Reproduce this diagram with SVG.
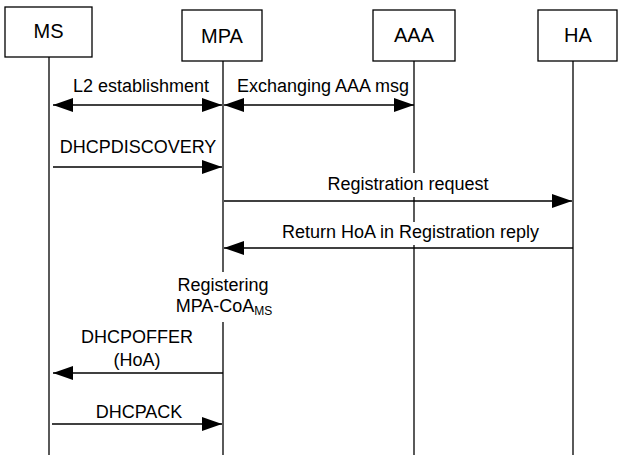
<svg xmlns="http://www.w3.org/2000/svg" width="619" height="455" viewBox="0 0 619 455">
  <defs>
    <marker id="arrow" viewBox="0 0 20 14" refX="20" refY="7" markerWidth="20" markerHeight="14" markerUnits="userSpaceOnUse" orient="auto-start-reverse">
      <path d="M0,0 L20,7 L0,14 Z" fill="#000"/>
    </marker>
  </defs>
  <style>
    .box { fill: #fff; stroke: #000; stroke-width: 1.3; }
    .life { stroke: #000; stroke-width: 1.3; fill: none; }
    .msg { stroke: #000; stroke-width: 1.3; fill: none; }
    .title { font-family: "Liberation Sans", Arial, sans-serif; font-size: 20px; fill: #000; text-anchor: middle; }
    .lbl { font-family: "Liberation Sans", Arial, sans-serif; font-size: 18px; fill: #000; text-anchor: middle; }
  </style>
  <rect width="619" height="455" fill="#fff"/>

  <!-- participants -->
  <g id="ms">
    <rect class="box" x="5" y="7" width="87" height="50"/>
    <text class="title" x="48.5" y="38">MS</text>
  </g>
  <g id="mpa">
    <rect class="box" x="182" y="10" width="80" height="51"/>
    <text class="title" x="222" y="43">MPA</text>
  </g>
  <g id="aaa">
    <rect class="box" x="373" y="10" width="82" height="51"/>
    <text class="title" x="414" y="42">AAA</text>
  </g>
  <g id="ha">
    <rect class="box" x="538" y="10" width="79" height="51"/>
    <text class="title" x="578" y="42">HA</text>
  </g>

  <!-- lifelines -->
  <g id="lifelines">
    <line class="life" x1="49" y1="57" x2="49" y2="455"/>
    <line class="life" x1="223" y1="61" x2="223" y2="272"/>
    <line class="life" x1="223" y1="322" x2="223" y2="455"/>
    <line class="life" x1="414" y1="61" x2="414" y2="173"/>
    <line class="life" x1="414" y1="197" x2="414" y2="222"/>
    <line class="life" x1="414" y1="245" x2="414" y2="455"/>
    <line class="life" x1="573" y1="61" x2="573" y2="455"/>
  </g>

  <!-- messages -->
  <g id="connectors">
    <line class="msg" x1="53" y1="105" x2="222" y2="105" marker-start="url(#arrow)" marker-end="url(#arrow)"/>
    <line class="msg" x1="224" y1="105" x2="414" y2="105" marker-start="url(#arrow)" marker-end="url(#arrow)"/>
    <line class="msg" x1="53" y1="167" x2="222" y2="167" marker-end="url(#arrow)"/>
    <line class="msg" x1="224" y1="201" x2="572" y2="201" marker-end="url(#arrow)"/>
    <line class="msg" x1="573" y1="248" x2="224" y2="248" marker-end="url(#arrow)"/>
    <line class="msg" x1="223" y1="373" x2="53" y2="373" marker-end="url(#arrow)"/>
    <line class="msg" x1="52" y1="424" x2="222" y2="424" marker-end="url(#arrow)"/>
  </g>

  <!-- message labels -->
  <g id="labels">
    <text class="lbl" x="141" y="92">L2 establishment</text>
    <text class="lbl" x="323" y="92">Exchanging AAA msg</text>
    <text class="lbl" x="138" y="153">DHCPDISCOVERY</text>
    <text class="lbl" x="408" y="190">Registration request</text>
    <text class="lbl" x="410.5" y="238">Return HoA in Registration reply</text>
    <text class="lbl" x="223" y="291">Registering</text>
    <text class="lbl" x="224" y="312">MPA-CoA<tspan font-size="12" dy="3">MS</tspan></text>
    <text class="lbl" x="137" y="343">DHCPOFFER</text>
    <text class="lbl" x="137" y="366">(HoA)</text>
    <text class="lbl" x="139" y="418">DHCPACK</text>
  </g>
</svg>
